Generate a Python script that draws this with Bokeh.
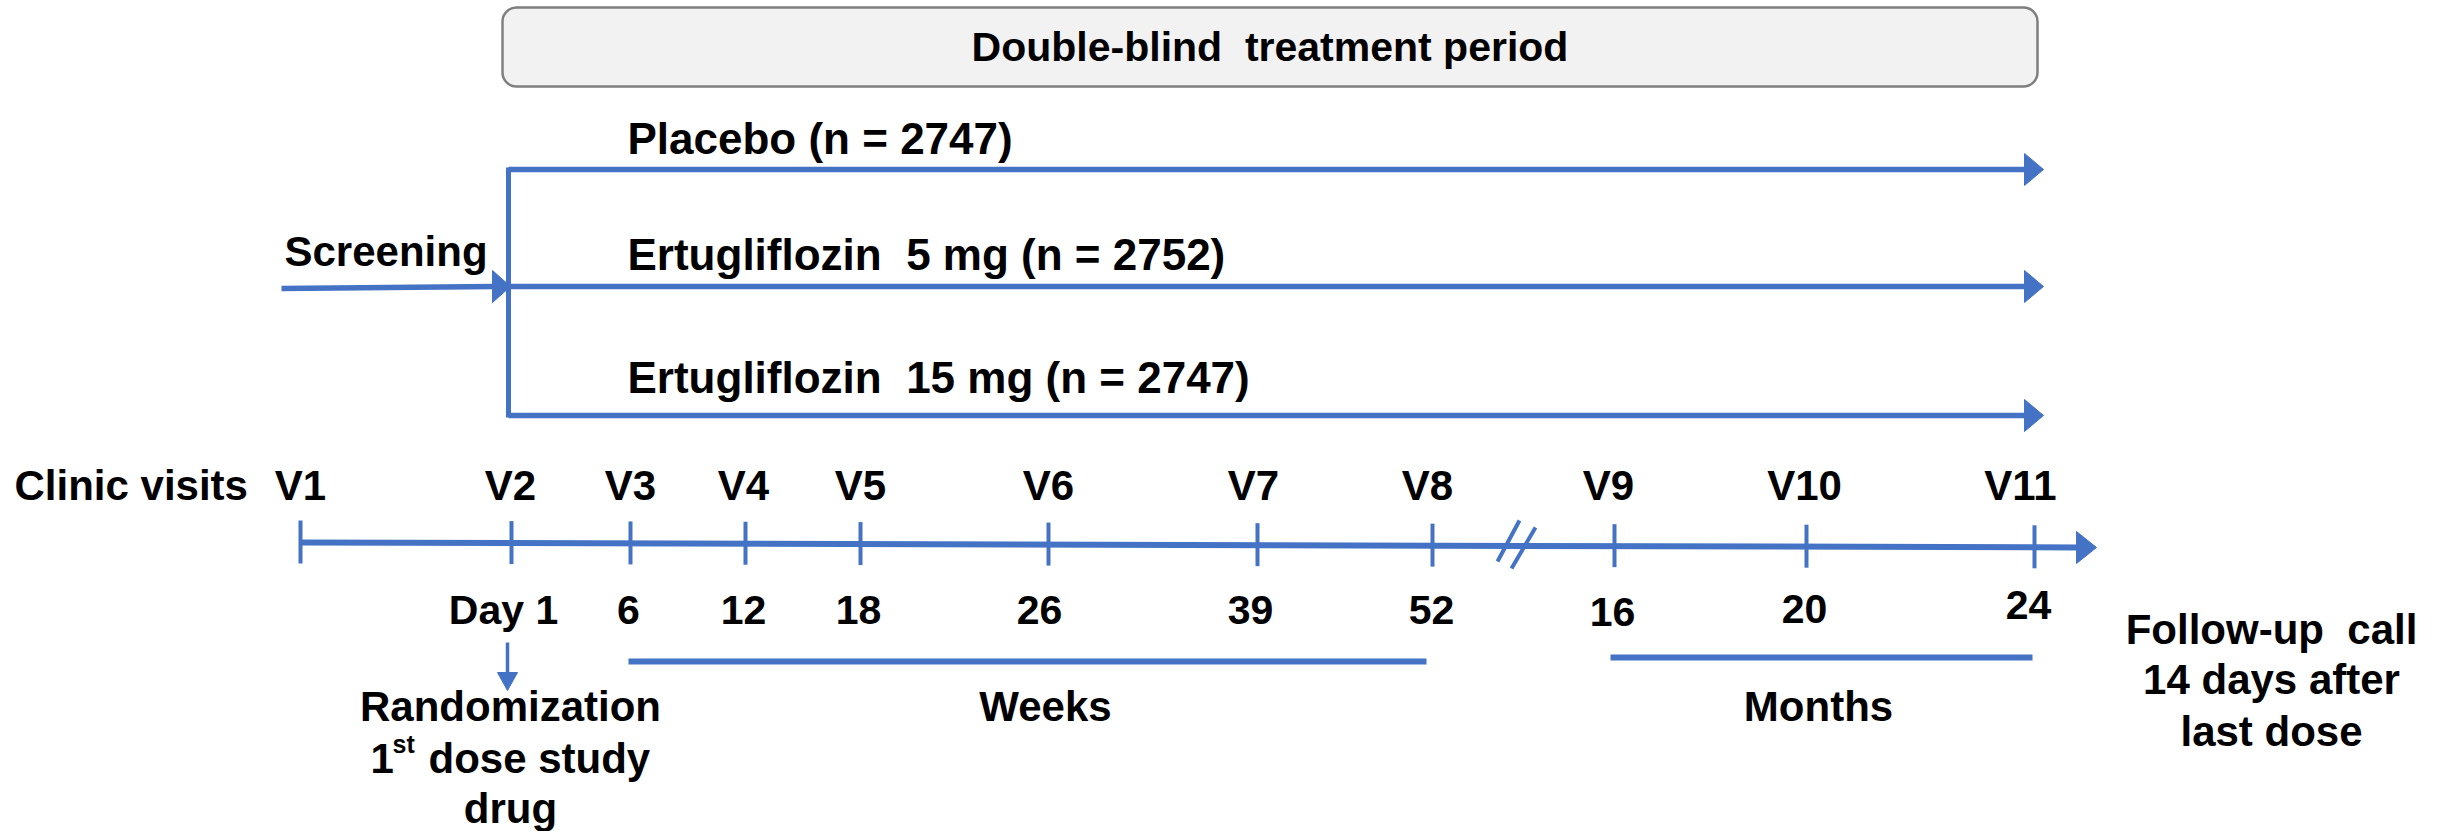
from bokeh.plotting import figure
from bokeh.models import Range1d
from bokeh.core.properties import value
from bokeh.embed import file_html
from bokeh.resources import INLINE

# ---------------- data (page-pixel coordinates) -------------
BLUE = "#4472C4"
FONT = "Liberation Sans"

title_text = "Double-blind\u00a0 treatment period"
arm_labels = ["Placebo (n = 2747)", "Ertugliflozin\u00a0 5 mg (n = 2752)", "Ertugliflozin\u00a0 15 mg (n = 2747)"]
arm_line_y = [169, 286, 415]
arm_label_baseline = [152, 268, 391]

visit_labels = ["V1", "V2", "V3", "V4", "V5", "V6", "V7", "V8", "V9", "V10", "V11"]
visit_tick_x = [300, 511, 630, 745, 860, 1048, 1257, 1432, 1614, 1806, 2034]
visit_label_x = [300, 510, 630, 743, 860, 1048, 1253, 1427, 1608, 1804, 2020]

time_labels = ["Day 1", "6", "12", "18", "26", "39", "52", "16", "20", "24"]
time_label_x = [503, 628, 743, 858, 1039, 1250, 1431, 1612, 1804, 2028]
time_label_baseline = [623, 623, 623, 623, 623, 623, 623, 625, 622, 618]

unit_labels = ["Weeks", "Months"]
unit_bar_x0 = [628, 1610]
unit_bar_x1 = [1426, 2032]
unit_bar_y = [661, 657]
unit_label_x = [1045, 1818]

followup_lines = ["Follow-up\u00a0 call", "14 days after", "last dose"]
followup_baseline = [643, 693, 745]

# ---------------- figure -------------
W, H = 2438, 831
p = figure(width=W, height=H, x_range=Range1d(0, W), y_range=Range1d(H, 0),
           output_backend="svg", toolbar_location=None, min_border=0)
p.axis.visible = False
p.grid.visible = False
p.outline_line_color = None
p.background_fill_color = "white"
p.border_fill_color = "white"

FS = "42px"
SHIFT = -14  # compensate renderer's baseline placement


def txt(x, y, t, align="left", size=FS):
    p.text(x=[x], y=[y + SHIFT], text=[t], text_font=value(FONT), text_font_size=size,
           text_font_style="bold", text_color="black", text_align=align,
           text_baseline="alphabetic")


def head(tip_x, tip_y, length, half, direction="right"):
    if direction == "right":
        xs = [tip_x, tip_x - length, tip_x - length]
        ys = [tip_y, tip_y - half, tip_y + half]
    else:  # down
        xs = [tip_x, tip_x - half, tip_x + half]
        ys = [tip_y, tip_y - length, tip_y - length]
    p.patch(xs, ys, fill_color=BLUE, line_color=BLUE, line_width=1)


# top rounded box
p.rect(x=[(502 + 2037) / 2], y=[(7 + 86) / 2], width=[2037 - 502], height=[86 - 7],
       fill_color="#F2F2F2", line_color="#7F7F7F", line_width=2.5, border_radius=14)
txt((502 + 2037) / 2, 60, title_text, align="center", size="41px")

# arms
split_x = 508
arm_tip = 2043
for y, lab, bl in zip(arm_line_y, arm_labels, arm_label_baseline):
    p.line([split_x, arm_tip - 16], [y, y], line_color=BLUE, line_width=5.5)
    head(arm_tip, y, 19, 16)
    txt(627, bl, lab, size="44px")
p.line([split_x, split_x], [arm_line_y[0] - 2, arm_line_y[-1] + 2], line_color=BLUE, line_width=5)

# screening
p.line([281, 495], [288, 286], line_color=BLUE, line_width=5.5)
head(510, 286, 18, 16)
txt(284, 265, "Screening")

# timeline
tl_x0, tl_y0, tl_x1, tl_y1 = 300, 542, 2096, 547


def tl_y(x):
    return tl_y0 + (tl_y1 - tl_y0) * (x - tl_x0) / (tl_x1 - tl_x0)


p.line([tl_x0, tl_x1 - 16], [tl_y0, tl_y(tl_x1 - 16)], line_color=BLUE, line_width=6)
head(tl_x1, tl_y1, 20, 16)
for xt in visit_tick_x:
    yc = tl_y(xt)
    p.line([xt, xt], [yc - 22, yc + 21], line_color=BLUE, line_width=4)
# break marks
p.segment(x0=[1519, 1535], y0=[520, 527], x1=[1497, 1511], y1=[561, 568],
          line_color=BLUE, line_width=4)

txt(14, 499, "Clinic visits")
for xl, lab in zip(visit_label_x, visit_labels):
    txt(xl, 499, lab, align="center")
for xl, lab, bl in zip(time_label_x, time_labels, time_label_baseline):
    txt(xl, bl, lab, align="center", size="41px")

# randomization arrow
p.line([507, 507], [642, 674], line_color=BLUE, line_width=3.5)
head(507, 690, 18, 10, direction="down")
txt(510, 720, "Randomization", align="center")
txt(370, 772, "1")
txt(392, 757, "st", size="25px")
txt(428, 772, "dose study")
txt(510, 822, "drug", align="center")

# weeks / months bars
for x0, x1, y, lab, xl in zip(unit_bar_x0, unit_bar_x1, unit_bar_y, unit_labels, unit_label_x):
    p.line([x0, x1], [y, y], line_color=BLUE, line_width=6)
    txt(xl, 720, lab, align="center")

for t, bl in zip(followup_lines, followup_baseline):
    txt(2271, bl, t, align="center")

open("out.html", "w").write(file_html(p, INLINE))
